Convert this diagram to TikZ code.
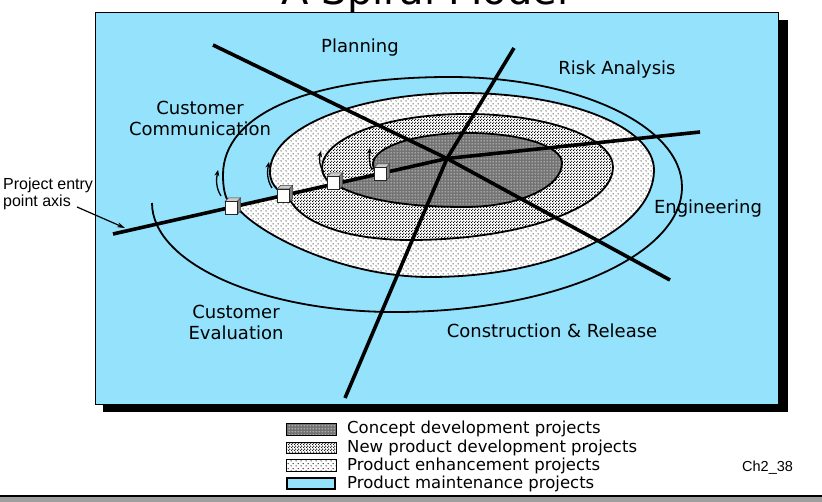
\documentclass[tikz,border=0pt]{standalone}
\usepackage{fontspec}
\setmainfont{DejaVu Sans}
\newfontfamily\arialfont{Liberation Sans}
\usetikzlibrary{patterns,arrows.meta}
\definecolor{panelblue}{RGB}{148,226,252}
\pgfdeclarepatternformonly{sparsedots}{\pgfpointorigin}{\pgfpoint{5pt}{5pt}}{\pgfpoint{5pt}{5pt}}{%
  \pgfpathcircle{\pgfpoint{1.25pt}{1.25pt}}{0.7pt}\pgfpathcircle{\pgfpoint{3.75pt}{3.75pt}}{0.7pt}\pgfusepath{fill}}
\pgfdeclarepatternformonly{densedots}{\pgfpointorigin}{\pgfpoint{3pt}{3pt}}{\pgfpoint{3pt}{3pt}}{%
  \pgfpathcircle{\pgfpoint{0.75pt}{0.75pt}}{0.85pt}\pgfpathcircle{\pgfpoint{2.25pt}{2.25pt}}{0.85pt}\pgfusepath{fill}}
\pgfdeclarepatternformonly{whitedots}{\pgfpointorigin}{\pgfpoint{3pt}{3pt}}{\pgfpoint{3pt}{3pt}}{%
  \pgfpathcircle{\pgfpoint{1.5pt}{1.5pt}}{0.7pt}\pgfusepath{fill}}
\def\spirLzero{(152,203) .. controls (152,263) and (261,312) .. (395,312)
  .. controls (553,312) and (682,256) .. (682,187)
  .. controls (682,126) and (578,77) .. (450,77)
  .. controls (309,77) and (223,114) .. (223,175)
  .. controls (223,188) and (225,196) .. (228,201)}
\def\spirLone{(236,206) .. controls (255,232) and (340,277) .. (430,277)
  .. controls (554,277) and (654,229) .. (654,170)
  .. controls (654,127) and (568,93) .. (462,93)
  .. controls (356,93) and (270,128) .. (270,172)
  .. controls (270,180) and (273,185) .. (278,190)}
\def\spirLtwo{(289,198) .. controls (300,222) and (345,240) .. (410,240)
  .. controls (522,240) and (613,207) .. (613,167)
  .. controls (613,138) and (548,114) .. (467,114)
  .. controls (386,114) and (322,138) .. (322,168)
  .. controls (322,174) and (325,178) .. (329,182)}
\def\spirLthree{(338,186) .. controls (370,203) and (420,207) .. (465,207)
  .. controls (519,207) and (562,187) .. (562,163)
  .. controls (562,146) and (520,133) .. (468,133)
  .. controls (415,133) and (373,147) .. (373,164)
  .. controls (373,168) and (375,171) .. (378,173)}
\begin{document}
\begin{tikzpicture}[x=1pt,y=-1pt,
  lbl/.style={font=\fontsize{18}{21}\selectfont, inner sep=0pt, anchor=base, align=center},
  legtext/.style={font=\fontsize{16.5}{18}\selectfont, inner sep=0pt, anchor=base west},
  lightfill/.style={preaction={fill=white}, pattern=sparsedots, pattern color=black},
  medfill/.style={preaction={fill=white}, pattern=densedots, pattern color=black},
  darkfill/.style={preaction={fill=black!55}, pattern=whitedots, pattern color=white},
  spiral/.style={line width=1.8pt},
  axisline/.style={line width=3.6pt},
  smallarrow/.style={line width=1.3pt, -{Stealth[length=6pt,width=5pt]}},
  cube/.pic={
    \filldraw[fill=black!50, draw=black!75, line width=0.5pt] (6,-6.5) -- (9.5,-10) -- (9.5,3) -- (6,6.5) -- cycle;
    \filldraw[fill=black!20, draw=black!75, line width=0.5pt] (-6,-6.5) -- (-2.5,-10) -- (9.5,-10) -- (6,-6.5) -- cycle;
    \filldraw[fill=white, draw=black!85, line width=0.8pt] (-6,-6.5) rectangle (6,6.5);
  }]
\useasboundingbox (0,0) rectangle (822,502);
% cut-off title
\begin{scope}
  \clip (0,0) rectangle (822,502);
  \node[font=\fontsize{40}{40}\selectfont, inner sep=0pt, anchor=base] (title) at (425,5) {A Spiral Model};
\end{scope}
% shadow and panel
\fill[black] (103,20) rectangle (788,412);
\filldraw[fill=panelblue, draw=black, line width=0.8pt] (95,12) rectangle (778,404);
% coordinates
\coordinate (c) at (447,158.5);
\coordinate (e0) at (113,234);
\coordinate (e1) at (700,132);
\coordinate (p0) at (213,45);
\coordinate (p1) at (670,280);
\coordinate (q0) at (345,398);
\coordinate (q1) at (514,48);
\coordinate (b1) at (231,208);
\coordinate (b2) at (283,195.5);
\coordinate (b3) at (333,183);
\coordinate (b4) at (380,174);
% filled bands
\path[lightfill] \spirLone -- (b2) -- (b1) -- cycle;
\path[medfill] \spirLtwo -- (b3) -- (b2) -- cycle;
\path[darkfill] \spirLthree -- (b4) -- (b3) -- cycle;
% spiral strokes
\draw[spiral] \spirLzero;
\draw[spiral] \spirLone;
\draw[spiral] \spirLtwo;
\draw[spiral] \spirLthree;
% axes
\draw[axisline] (p0) -- (c) -- (p1);
\draw[axisline] (q0) -- (c) -- (q1);
\draw[axisline] (e0) -- (c) -- (e1);
% entry boxes
\pic at (b1) {cube};
\pic at (b2) {cube};
\pic at (b3) {cube};
\pic at (b4) {cube};
% small direction arrows
\coordinate (a1s) at (221,196); \coordinate (a1e) at (218,170);
\coordinate (a2s) at (272,188); \coordinate (a2e) at (269,162);
\coordinate (a3s) at (324,172); \coordinate (a3e) at (321,151);
\coordinate (a4s) at (372,170); \coordinate (a4e) at (370,148);
\draw[smallarrow] (a1s) .. controls (216,188) and (216,180) .. (a1e);
\draw[smallarrow] (a2s) .. controls (267,180) and (267,172) .. (a2e);
\draw[smallarrow] (a3s) .. controls (319,166) and (319,159) .. (a3e);
\draw[smallarrow] (a4s) .. controls (369,164) and (369,157) .. (a4e);
% quadrant labels
\node[lbl] (planning) at (360,53) {Planning};
\node[lbl] (risk) at (617,75) {Risk Analysis};
\node[lbl] (custcomm) at (200,136) {Customer\\Communication};
\node[lbl] (eng) at (708,214) {Engineering};
\node[lbl] (custeval) at (236,340) {Customer\\Evaluation};
\node[lbl] (constr) at (552,338) {Construction \& Release};
% entry axis label
\node[font=\arialfont\fontsize{16}{17}\selectfont, inner sep=0pt, anchor=base west, align=left] (pe) at (3,207) {Project entry\\point axis};
\coordinate (pestart) at (77,207);
\coordinate (petip) at (125,228);
\draw[line width=1.2pt, -{Stealth[length=8pt,width=5pt]}] (pestart) -- (petip);
% legend
\draw[darkfill, draw=black, line width=0.8pt] (286,423) rectangle (336,435);
\draw[medfill, draw=black, line width=0.8pt] (286,442) rectangle (336,453);
\draw[lightfill, draw=black, line width=0.8pt] (286,459) rectangle (336,471);
\filldraw[fill=panelblue, draw=black, line width=2.2pt] (287,478) rectangle (335,489);
\node[legtext] (lg1) at (347,434) {Concept development projects};
\node[legtext] (lg2) at (347,452) {New product development projects};
\node[legtext] (lg3) at (347,470) {Product enhancement projects};
\node[legtext] (lg4) at (347,488) {Product maintenance projects};
\node[font=\arialfont\fontsize{14.5}{15}\selectfont, inner sep=0pt, anchor=base west] (ch) at (742,471) {Ch2\_38};
% bottom bar
\fill[black!38] (0,497) rectangle (822,502);
\draw[line width=1.5pt] (0,495.8) -- (822,495.8);
\end{tikzpicture}
\end{document}
